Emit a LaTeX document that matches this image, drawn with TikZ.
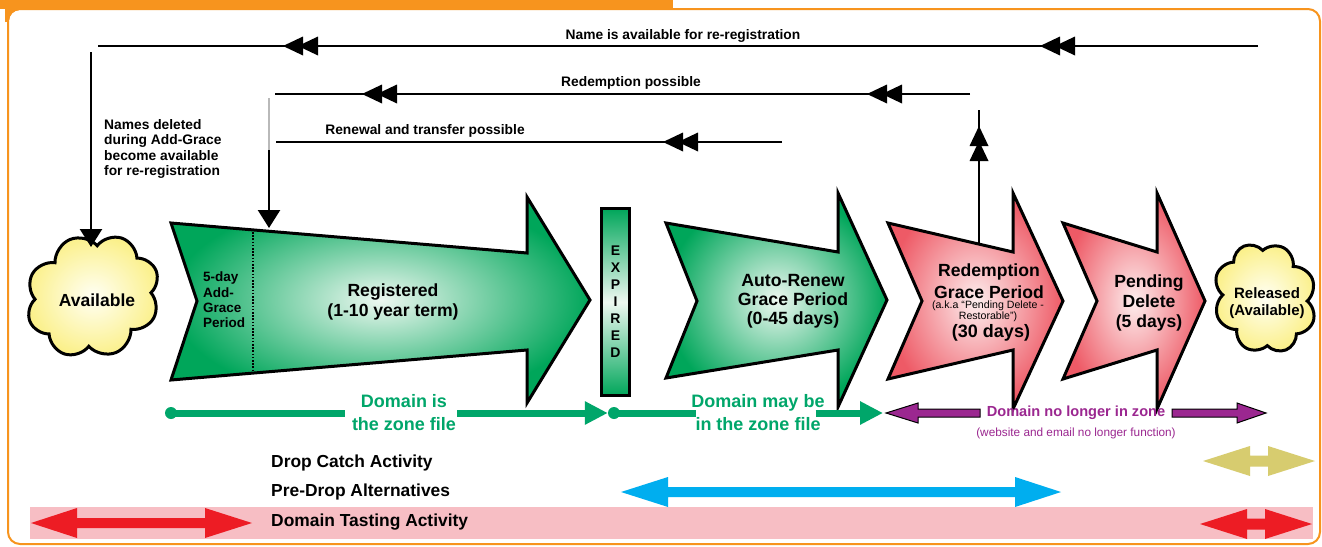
\documentclass[tikz,border=0pt]{standalone}
\usepackage{fontspec}
\setmainfont{Liberation Sans}
\usetikzlibrary{shapes.symbols,arrows.meta}
\definecolor{orng}{HTML}{F7941E}
\definecolor{grn}{HTML}{00A65A}
\definecolor{grnlt}{HTML}{EEF8F1}
\definecolor{redd}{HTML}{EE5A66}
\definecolor{redlt}{HTML}{FDEEEE}
\definecolor{ylw}{HTML}{FBF08A}
\definecolor{ylwlt}{HTML}{FFFFF4}
\definecolor{gtxt}{HTML}{00A66A}
\definecolor{purp}{HTML}{9B2790}
\definecolor{blu}{HTML}{00AEEF}
\definecolor{khaki}{HTML}{D7CC6F}
\definecolor{brred}{HTML}{ED1C24}
\definecolor{pinkband}{HTML}{F7BEC4}
\newcommand\myfs[2]{\fontsize{#1}{#2}\selectfont}
\tikzset{
  pics/dblhead/.style={code={
    \fill (0,0)--(20,-9.5)--(20,9.5)--cycle;
    \fill (15,0)--(35,-9.5)--(35,9.5)--cycle;}},
  ln/.style={line width=2.5pt, black},
  downtip/.style={-{Triangle[length=18pt,width=22pt]}},
  lbl/.style={inner sep=0pt, font=\bfseries\myfs{13.8}{15.4}},
  bigarrow/.style={draw=black, line width=3pt, line join=miter},
  greenfill/.style={inner color=grnlt, outer color=grn},
  redfill/.style={inner color=redlt, outer color=redd},
  cloudbox/.style={cloud, cloud puffs=8, cloud puff arc=140, aspect=1, draw=black, line width=3pt, inner color=ylwlt, outer color=ylw, inner sep=0pt},
  bigtxt/.style={inner sep=0pt, align=center, font=\bfseries\myfs{17.6}{20}},
  gline/.style={draw=gtxt, line width=7pt, line cap=butt},
  gtip/.style={-{Triangle[length=23pt,width=22pt]}},
  gtext/.style={inner sep=0pt, align=center, text=gtxt, font=\bfseries\myfs{18}{23}},
  rowtxt/.style={inner sep=0pt, anchor=west, font=\bfseries\myfs{17.4}{20}},
}
\begin{document}
\begin{tikzpicture}[x=1pt,y=-1pt]
\useasboundingbox (0,0) rectangle (1322,546);
% frame
\fill[orng] (0,0) rectangle (673,9);
\fill[orng] (5,0) rectangle (22,22);
\fill[white, rounded corners=11pt] (9,10) rectangle (1318,542);
\draw[orng, line width=2pt, rounded corners=12pt] (8,9) rectangle (1320,544);

% top line 1
\coordinate (l1r) at (1258,46);
\coordinate (l1l) at (98,46);
\draw[ln] (l1r) -- (l1l);
\pic at (283,46) {dblhead};
\pic at (1040,46) {dblhead};
\node[lbl] (t1) at (683,36) {Name is available for re-registration};
\coordinate (v1t) at (91,52);
\coordinate (v1b) at (91,247);
\node[lbl, anchor=west, align=left] (t4) at (104,149) {Names deleted\\during Add-Grace\\become available\\for re-registration};

% top line 2
\coordinate (l2r) at (970,94);
\coordinate (l2l) at (275,94);
\draw[ln] (l2r) -- (l2l);
\pic at (362,94) {dblhead};
\pic at (867,94) {dblhead};
\node[lbl] (t2) at (631,83) {Redemption possible};
\coordinate (v2t) at (269,98);
\coordinate (v2m) at (269,150);
\coordinate (v2b) at (269,228);
\draw[gray!55, line width=1.6pt] (v2t) -- (v2m);
\draw[ln, downtip] (v2m) -- (v2b);
\coordinate (v3b) at (979,243);
\coordinate (v3t) at (979,110);
\draw[ln] (v3b) -- (v3t);
\pic[rotate=-90] at (979,126) {dblhead};

% top line 3
\coordinate (l3r) at (782,142);
\coordinate (l3l) at (276,142);
\draw[ln] (l3r) -- (l3l);
\pic at (663,142) {dblhead};
\node[lbl] (t3) at (425,131) {Renewal and transfer possible};

% clouds
\node[cloudbox, minimum width=136pt, minimum height=122pt, rotate=22] (avail) at (93,296) {};
\node[inner sep=0pt, font=\bfseries\myfs{17.5}{20}] (availt) at (97,300) {Available};
\draw[ln, downtip] (v1t) -- (v1b);
\node[cloudbox, minimum width=102pt, minimum height=112pt, rotate=22] (rel) at (1265,298) {};
\node[inner sep=0pt, align=center, font=\bfseries\myfs{15}{17}] (relt) at (1267,303.5) {Released\\(Available)};

% Registered arrow
\path[bigarrow, greenfill] (171,223) -- (527,253) -- (527,197) -- (590,300) -- (527,403) -- (527,350) -- (171,380) -- (197,301) -- cycle;
\draw[line width=1.6pt, dash pattern=on 1.6pt off 1.6pt] (253,232) -- (253,372);
\node[inner sep=0pt, align=left, anchor=west, font=\bfseries\myfs{13.5}{15.3}] (ag) at (203,300) {5-day\\Add-\\Grace\\Period};
\node[bigtxt] (reg) at (393,302) {Registered\\(1-10 year term)};

% EXPIRED
\node[draw=black, line width=3pt, minimum width=28pt, minimum height=187pt, inner sep=0pt,
  top color=grn, bottom color=grn, middle color=grnlt, align=center,
  font=\bfseries\myfs{14}{17}] (exp) at (615.5,302) {E\\X\\P\\I\\R\\E\\D};

% Auto-Renew
\path[bigarrow, greenfill] (666,223) -- (838,252) -- (838,193) -- (887,300) -- (838,407) -- (838,350) -- (666,378) -- (697,301) -- cycle;
\node[bigtxt, font=\bfseries\myfs{17.7}{19}] (ar) at (793,301) {Auto-Renew\\Grace Period\\(0-45 days)};

% Redemption
\path[bigarrow, redfill] (888,223) -- (1013,252) -- (1013,193) -- (1063,301) -- (1013,409) -- (1013,350) -- (888,379) -- (922,301) -- cycle;
\node[bigtxt] (rd1) at (989,272) {Redemption};
\node[bigtxt] (rd2) at (989,292) {Grace Period};
\node[inner sep=0pt, font=\myfs{10.6}{12}] (rd3) at (988,306) {(a.k.a “Pending Delete -};
\node[inner sep=0pt, font=\myfs{10.6}{12}] (rd4) at (988,317) {Restorable”)};
\node[bigtxt, font=\bfseries\myfs{18}{20}] (rd5) at (991,333) {(30 days)};

% Pending Delete
\path[bigarrow, redfill] (1063,223) -- (1157,252) -- (1157,193) -- (1205,301) -- (1157,409) -- (1157,350) -- (1063,379) -- (1097,301) -- cycle;
\node[bigtxt] (pd) at (1149,303) {Pending\\Delete\\(5 days)};

% green zone row
\node[circle, fill=gtxt, minimum size=12pt, inner sep=0pt] (d1) at (171,413) {};
\node[circle, fill=gtxt, minimum size=12pt, inner sep=0pt] (d2) at (614,413) {};
\node[gtext] (gz1) at (404,413) {Domain is\\the zone file};
\node[gtext] (gz2) at (758,413) {Domain may be\\in the zone file};
\coordinate (gend) at (883,413);
\draw[gline] (d1.center) -- ([xshift=-7pt]gz1.west);
\draw[gline, gtip] ([xshift=1pt]gz1.east) -- (d2.west);
\draw[gline] (d2.center) -- ([xshift=5pt]gz2.west);
\draw[gline, gtip] ([xshift=-9pt]gz2.east) -- (gend);

% purple row
\node[inner sep=0pt, text=purp, font=\bfseries\myfs{14.6}{17}] (pz) at (1076,413) {Domain no longer in zone};
\node[inner sep=0pt, text=purp, font=\myfs{11.8}{13}] (pz2) at (1076,433) {(website and email no longer function)};
\path[fill=purp, draw=black, line width=1pt] (886,413) -- (918,403) -- (918,409) -- (980,409) -- (980,417) -- (918,417) -- (918,423) -- cycle;
\path[fill=purp, draw=black, line width=1pt] (1172,409) -- (1237,409) -- (1237,403) -- (1266,413) -- (1237,423) -- (1237,417) -- (1172,417) -- cycle;

% bottom rows
\fill[pinkband] (30,507) rectangle (1313,539);
\node[rowtxt] (r1) at (271,463) {Drop Catch Activity};
\node[rowtxt] (r2) at (271,492) {Pre-Drop Alternatives};
\node[rowtxt] (r3) at (271,522) {Domain Tasting Activity};
\fill[khaki] (1203,461) -- (1250,446) -- (1250,455.5) -- (1268,455.5) -- (1268,446) -- (1315,461) -- (1268,476) -- (1268,466.5) -- (1250,466.5) -- (1250,476) -- cycle;
\fill[blu] (621,492) -- (668,477) -- (668,487) -- (1015,487) -- (1015,477) -- (1061,492) -- (1015,507) -- (1015,497) -- (668,497) -- (668,507) -- cycle;
\fill[brred] (31,523) -- (77,508) -- (77,518) -- (205,518) -- (205,508) -- (252,523) -- (205,538) -- (205,528) -- (77,528) -- (77,538) -- cycle;
\fill[brred] (1200,524) -- (1247,509) -- (1247,518.5) -- (1265,518.5) -- (1265,509) -- (1312,524) -- (1265,539) -- (1265,529.5) -- (1247,529.5) -- (1247,539) -- cycle;
\end{tikzpicture}
\end{document}
